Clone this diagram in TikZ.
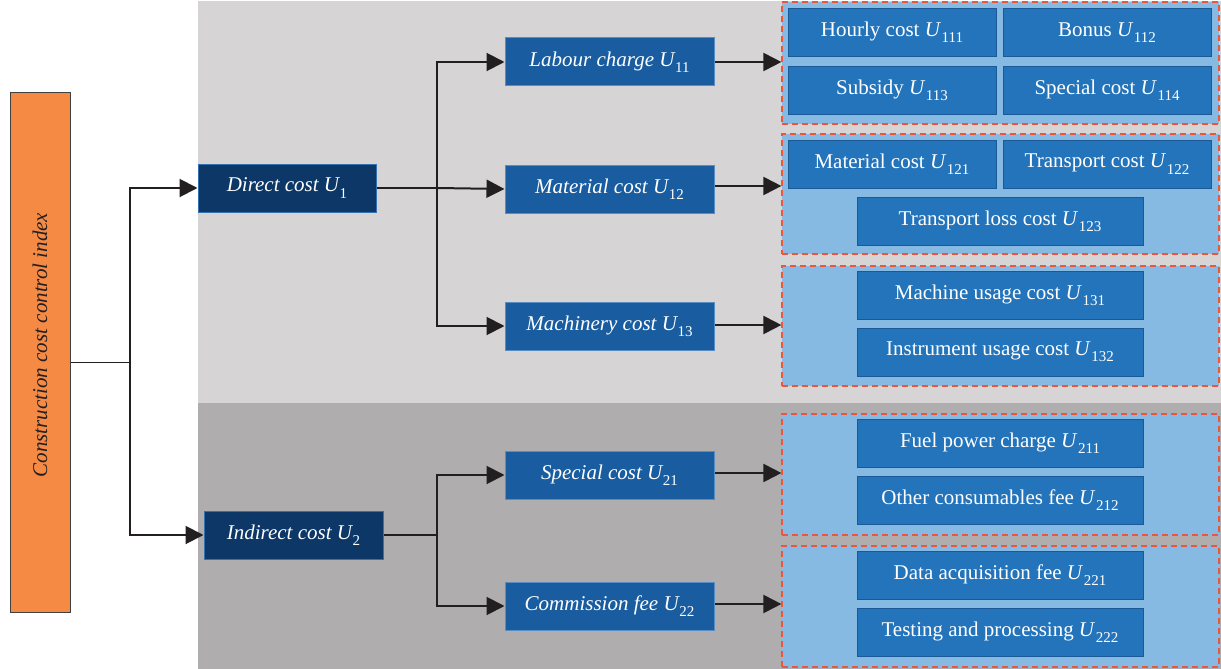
\documentclass[tikz,border=0pt]{standalone}
\usepackage{fontspec}
\setmainfont{Liberation Serif}
\usetikzlibrary{arrows.meta}
\definecolor{bglight}{HTML}{D6D4D5}
\definecolor{bgdark}{HTML}{AFADAE}
\definecolor{navy}{HTML}{0C3767}
\definecolor{navyborder}{HTML}{3570B0}
\definecolor{midblue}{HTML}{195DA0}
\definecolor{midborder}{HTML}{5A8CC4}
\definecolor{leafblue}{HTML}{2474BB}
\definecolor{leafborder}{HTML}{1B5896}
\definecolor{grpblue}{HTML}{86BAE3}
\definecolor{grpred}{HTML}{E9573F}
\definecolor{rootorange}{HTML}{F58A45}
\definecolor{rootborder}{HTML}{404040}
\definecolor{linecol}{HTML}{231F20}
\newcommand{\Usub}[1]{\textit{U}\kern0.03em\raisebox{-0.3em}{\upshape\fontsize{15}{15}\selectfont #1}}
\begin{document}
\begin{tikzpicture}[x=1pt,y=-1pt,
  lvlone/.style={draw=navyborder, line width=1pt, fill=navy, text=white,
    font=\fontsize{21}{24}\selectfont\itshape, minimum height=48pt, inner sep=0pt},
  lvltwo/.style={draw=midborder, line width=1pt, fill=midblue, text=white,
    font=\fontsize{21}{24}\selectfont\itshape, minimum width=209pt, minimum height=48pt, inner sep=0pt},
  leaf/.style={draw=leafborder, line width=1pt, fill=leafblue, text=white,
    font=\fontsize{21}{24}\selectfont, minimum height=48pt, inner sep=0pt},
  leafw/.style={leaf, minimum width=208pt},
  leafn/.style={leaf, minimum width=286pt},
  grp/.style={draw=grpred, fill=grpblue, line width=1.2pt, dash pattern=on 6pt off 4pt,
    minimum width=437pt, inner sep=0pt},
  rootbox/.style={draw=rootborder, line width=1pt, fill=rootorange, text=linecol,
    font=\fontsize{21}{24}\selectfont, minimum width=60pt, minimum height=520pt, inner sep=0pt},
  conn/.style={draw=linecol, line width=2pt},
  arr/.style={conn, -{Triangle[length=18pt,width=18pt]}}
]
\useasboundingbox (0,0) rectangle (1221,669);
% backgrounds
\fill[white] (0,0) rectangle (1221,669);
\fill[bglight] (198,1) rectangle (1221,403);
\fill[bgdark] (198,403) rectangle (1221,669);

% root
\node[rootbox] (root) at (40,352) {\rotatebox{90}{\hspace{14pt}\itshape Construction cost control index}};

% level 1
\node[lvlone, minimum width=178pt] (d) at (287,188) {Direct cost \Usub{1}};
\node[lvlone, minimum width=179pt] (i) at (293.5,535) {Indirect cost \Usub{2}};

% level 2
\node[lvltwo] (l11) at (609.5,62) {Labour charge \Usub{11}};
\node[lvltwo] (l12) at (609.5,189) {Material cost \Usub{12}};
\node[lvltwo] (l13) at (609.5,326) {Machinery cost \Usub{13}};
\node[lvltwo] (l21) at (609.5,475) {Special cost \Usub{21}};
\node[lvltwo] (l22) at (609.5,606) {Commission fee \Usub{22}};

% groups
\node[grp, minimum height=122pt] (g1) at (1000.5,63) {};
\node[grp, minimum height=120pt] (g2) at (1000.5,194) {};
\node[grp, minimum height=120pt] (g3) at (1000.5,326) {};
\node[grp, minimum height=121pt] (g4) at (1000.5,474.5) {};
\node[grp, minimum height=121pt] (g5) at (1000.5,606.5) {};

% leaves
\node[leafw] (u111) at (892,32.5) {Hourly cost \Usub{111}};
\node[leafw] (u112) at (1107,32.5) {Bonus \Usub{112}};
\node[leafw] (u113) at (892,90.5) {Subsidy \Usub{113}};
\node[leafw] (u114) at (1107,90.5) {Special cost \Usub{114}};
\node[leafw] (u121) at (892,164) {Material cost \Usub{121}};
\node[leafw] (u122) at (1107,164) {Transport cost \Usub{122}};
\node[leafn] (u123) at (1000,221) {Transport loss cost \Usub{123}};
\node[leafn] (u131) at (1000,295.5) {Machine usage cost \Usub{131}};
\node[leafn] (u132) at (1000,352) {Instrument usage cost \Usub{132}};
\node[leafn] (u211) at (1000,443) {Fuel power charge \Usub{211}};
\node[leafn] (u212) at (1000,500) {Other consumables fee \Usub{212}};
\node[leafn] (u221) at (1000,575) {Data acquisition fee \Usub{221}};
\node[leafn] (u222) at (1000,632) {Testing and processing \Usub{222}};

% connectors
\coordinate (rj) at (130,362);
\coordinate (bx) at (437,0);
\draw[draw=linecol, line width=1pt] (root.east |- rj) -- (rj);
\draw[arr] (rj) |- (d.west);
\draw[arr] (rj) |- (i.west);

\draw[conn] (d.east) -- (bx |- d.east);
\draw[arr] (bx |- d.east) |- (l11.west);
\draw[arr] (bx |- d.east) -- (l12.west);
\draw[arr] (bx |- d.east) |- (l13.west);

\draw[conn] (i.east) -- (bx |- i.east);
\draw[arr] (bx |- i.east) |- (l21.west);
\draw[arr] (bx |- i.east) |- (l22.west);

\draw[arr] (l11.east) -- (l11.east -| g1.west);
\draw[arr] ([yshift=3pt]l12.east) -- ([yshift=3pt]l12.east -| g2.west);
\draw[arr] ([yshift=1pt]l13.east) -- ([yshift=1pt]l13.east -| g3.west);
\draw[arr] ([yshift=2pt]l21.east) -- ([yshift=2pt]l21.east -| g4.west);
\draw[arr] ([yshift=2pt]l22.east) -- ([yshift=2pt]l22.east -| g5.west);
\end{tikzpicture}
\end{document}
